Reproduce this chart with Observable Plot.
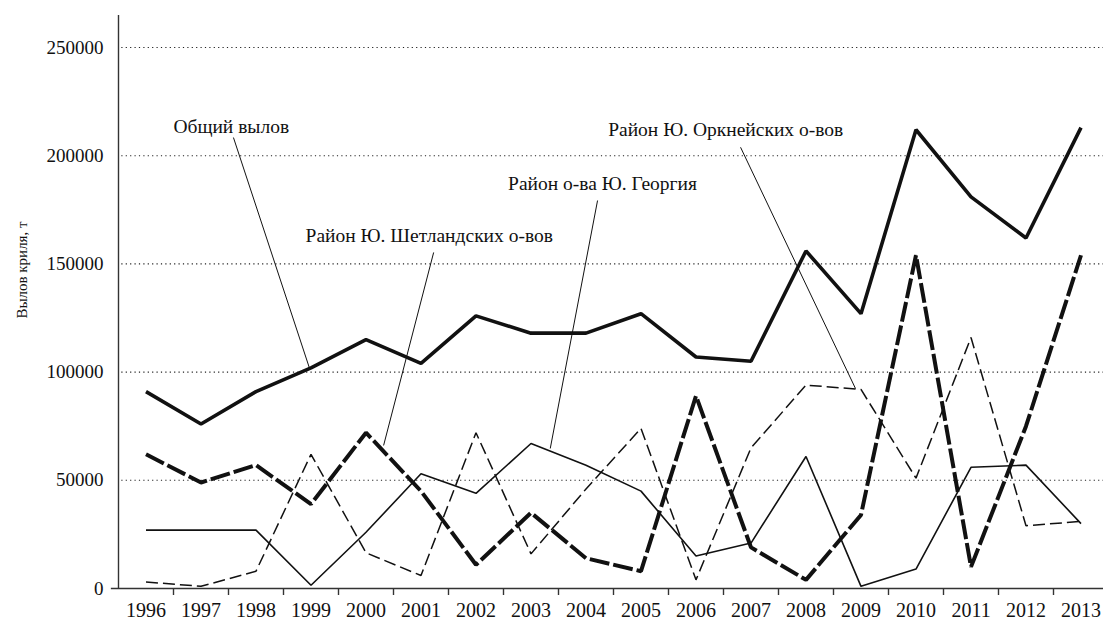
<!DOCTYPE html>
<html>
<head>
<meta charset="utf-8">
<script src="https://cdn.jsdelivr.net/npm/d3@7"></script>
<script src="https://cdn.jsdelivr.net/npm/@observablehq/plot@0.6"></script>
<style>
  html, body { margin: 0; padding: 0; background: #fff; }
  #chart svg { display: block; }
  #chart svg, #chart svg text { font-family: "Liberation Serif", "DejaVu Serif", serif !important; }
</style>
</head>
<body>
<div id="chart"></div>
<script>
// ---- data ----
const years = [1996,1997,1998,1999,2000,2001,2002,2003,2004,2005,2006,2007,2008,2009,2010,2011,2012,2013];
const totalCatch    = [91000,76000,91000,102000,115000,104000,126000,118000,118000,127000,107000,105000,156000,127000,212000,181000,162000,213000];
const shetlandCatch = [62000,49000,57000,39000,72000,45000,11000,35000,14000,8000,89000,19000,4000,34000,154000,10000,75000,154000];
const georgiaCatch  = [27000,27000,27000,1500,26000,53000,44000,67000,57000,45000,15000,21000,61000,1000,9000,56000,57000,30000];
const orkneyCatch   = [3000,1000,8000,62000,16500,6000,72000,16000,46000,74000,4000,65000,94000,92000,51000,116000,29000,31000];

const yTicks = [0,50000,100000,150000,200000,250000];
const yTitle = "Вылов криля, т";

// annotation labels (in data units) and their leader lines
const labelText = ["Общий вылов","Район Ю. Шетландских о-вов","Район о-ва Ю. Георгия","Район Ю. Оркнейских о-вов"];
const labelX    = [1997.55, 2001.15, 2004.3, 2006.54];
const labelY    = [213500, 163000, 187000, 212000];
const leadX1    = [1997.59, 2001.23, 2004.21, 2006.81];
const leadY1    = [208400, 155300, 179300, 203900];
const leadX2    = [1998.97, 2000.32, 2003.35, 2008.90];
const leadY2    = [102000, 66100, 64700, 92400];

// ---- build tables ----
const series = (vals) => years.map((y, i) => ({year: y, value: vals[i]}));
const labels = labelText.map((t, i) => ({text: t, x: labelX[i], y: labelY[i]}));
const leaders = labelText.map((t, i) => ({x1: leadX1[i], y1: leadY1[i], x2: leadX2[i], y2: leadY2[i]}));
const halfTicks = years.slice(0, -1).map(y => y + 0.5);

const chart = Plot.plot({
  width: 1103,
  height: 621,
  marginTop: 15,
  marginBottom: 33,
  marginLeft: 118,
  marginRight: 0,
  style: {fontSize: "19px", color: "#111", background: "#fff"},
  x: {type: "linear", domain: [1995.5, 2013.5], range: [118, 1108]},
  y: {domain: [0, 264800]},
  marks: [
    // dotted grid
    Plot.ruleY(yTicks.slice(1), {x1: 1995.56, x2: 2013.5, stroke: "#222", strokeWidth: 1.1, strokeDasharray: "1.2,3.2"}),
    // axes
    Plot.axisY({ticks: yTicks, tickSize: 0, tickPadding: 15, tickFormat: d => String(d), label: null, fontSize: 19}),
    Plot.text([yTitle], {frameAnchor: "left", dx: -96, dy: -32, rotate: -90, fontSize: 15, textAnchor: "middle"}),
    Plot.axisX({ticks: halfTicks, tickSize: 7, tickFormat: () => "", label: null, stroke: "#333", strokeWidth: 1.4}),
    Plot.axisX({ticks: years, tickSize: 0, tickPadding: 14, tickFormat: d => String(d), label: null, fontSize: 20}),
    Plot.ruleX([1995.5], {y1: 0, y2: 264800, stroke: "#333", strokeWidth: 1.4}),
    Plot.ruleY([0], {x1: 1995.37, x2: 2013.5, stroke: "#333", strokeWidth: 1.6}),
    // leader lines
    Plot.link(leaders, {x1: "x1", y1: "y1", x2: "x2", y2: "y2", stroke: "#111", strokeWidth: 1}),
    // series
    Plot.line(series(orkneyCatch), {x: "year", y: "value", stroke: "#111", strokeWidth: 1.5, strokeDasharray: "12,5", strokeLinejoin: "miter", strokeLinecap: "butt"}),
    Plot.line(series(georgiaCatch), {x: "year", y: "value", stroke: "#111", strokeWidth: 1.6, strokeLinejoin: "miter", strokeLinecap: "butt"}),
    Plot.line(series(shetlandCatch), {x: "year", y: "value", stroke: "#111", strokeWidth: 4, strokeDasharray: "20,4", strokeLinejoin: "miter", strokeLinecap: "butt"}),
    Plot.line(series(totalCatch), {x: "year", y: "value", stroke: "#111", strokeWidth: 3.6, strokeLinejoin: "miter", strokeLinecap: "butt"}),
    // labels
    Plot.text(labels, {x: "x", y: "y", text: "text", fontSize: 19.5, fill: "#111", textAnchor: "middle", lineAnchor: "middle"})
  ]
});
document.getElementById("chart").appendChild(chart);
</script>
</body>
</html>
